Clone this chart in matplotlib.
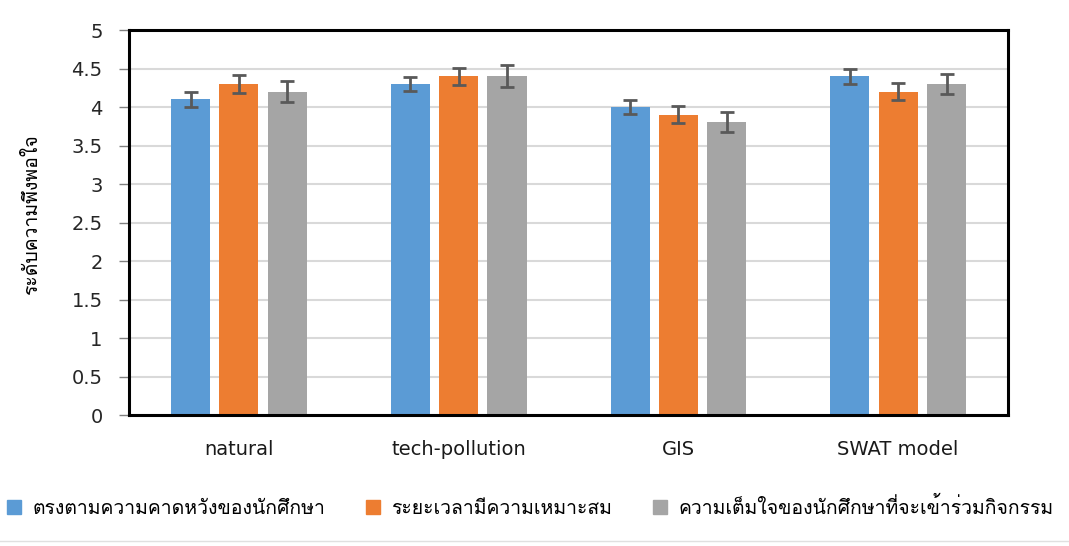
import matplotlib
matplotlib.use('Agg')
import matplotlib.pyplot as plt
import numpy as np
from matplotlib import font_manager
from matplotlib.ft2font import FT2Font
from matplotlib.patches import Patch

categories = ['natural', 'tech-pollution', 'GIS', 'SWAT model']
series_names = ['ตรงตามความคาดหวังของนักศึกษา', 'ระยะเวลามีความเหมาะสม',
                'ความเต็มใจของนักศึกษาที่จะเข้าร่วมกิจกรรม']
expect = [4.1, 4.3, 4.0, 4.4]
duration = [4.3, 4.4, 3.9, 4.2]
willing = [4.2, 4.4, 3.8, 4.3]
expect_err = [0.095, 0.09, 0.095, 0.095]
duration_err = [0.115, 0.11, 0.11, 0.11]
willing_err = [0.14, 0.14, 0.13, 0.135]
ylabel = 'ระดับความพึงพอใจ'

# หาฟอนต์ที่มีอักษรไทย
thai_font = None
for f in font_manager.fontManager.ttflist:
    try:
        if 0x0E01 in FT2Font(f.fname).get_charmap():
            thai_font = f.name
            break
    except Exception:
        pass
families = ['DejaVu Sans', thai_font] if thai_font else ['DejaVu Sans']
plt.rcParams['font.family'] = families

colors = ['#5B9BD5', '#ED7D31', '#A5A5A5']
values = [expect, duration, willing]
errors = [expect_err, duration_err, willing_err]

fig = plt.figure(figsize=(10.69, 5.46), dpi=100)
ax = fig.add_axes([0.1207, 0.2399, 0.8223, 0.7051])

x = np.arange(len(categories))
w = 0.178
for i in range(3):
    ax.bar(x + (i - 1) * 0.22, values[i], w, color=colors[i], zorder=2,
           yerr=errors[i], error_kw=dict(ecolor='#595959', elinewidth=2, capsize=5, capthick=2))

ax.set_xlim(-0.5, 3.5)
ax.set_ylim(0, 5)
ax.set_yticks(np.arange(0, 5.01, 0.5))
ax.set_yticklabels(['0', '0.5', '1', '1.5', '2', '2.5', '3', '3.5', '4', '4.5', '5'],
                   fontsize=14, color='#262626')
ax.set_xticks(x)
ax.set_xticklabels(categories, fontsize=14, color='#1a1a1a')
ax.tick_params(axis='x', length=0, pad=18)
ax.tick_params(axis='y', length=7, color='#808080', width=1, pad=12)
ax.grid(axis='y', color='#D9D9D9', linewidth=1.5, zorder=0)
ax.set_axisbelow(True)
for s in ax.spines.values():
    s.set_linewidth(2.2)
    s.set_color('black')
ax.set_ylabel(ylabel, fontsize=14)
ax.yaxis.set_label_coords(-0.100, 0.52)

handles = [Patch(color=c) for c in colors]
fig.legend(handles, series_names, loc='center', bbox_to_anchor=(0.496, 0.0714), ncol=3,
           frameon=False, fontsize=14, handlelength=0.7, handleheight=0.7,
           handletextpad=0.6, columnspacing=2.1)

fig.add_artist(plt.Line2D([0, 1], [0.01, 0.01], color='#E0E0E0', linewidth=1))

plt.savefig('out.png', dpi=100)
